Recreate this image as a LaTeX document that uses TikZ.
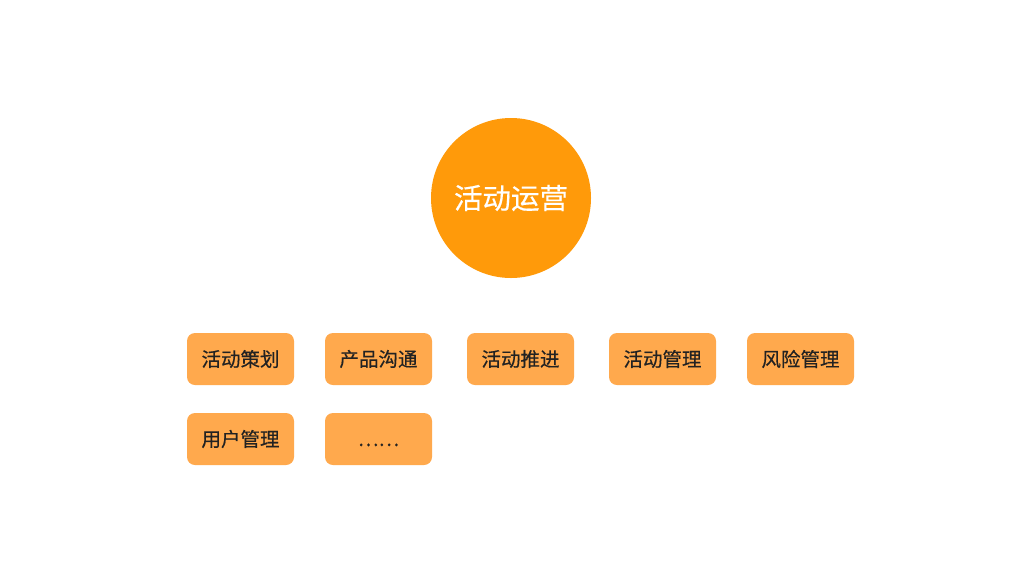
\documentclass[tikz,border=0pt]{standalone}
\usepackage{fontspec}
\newfontfamily\cjk{Noto Sans CJK SC}[FakeBold=0.5]
\definecolor{circ}{HTML}{FF9A0A}
\definecolor{boxc}{HTML}{FFA94D}
\definecolor{txt}{HTML}{222222}
\begin{document}
\begin{tikzpicture}[x=1pt,y=-1pt,
  itembox/.style={fill=boxc, rounded corners=8pt, minimum width=107pt, minimum height=52pt, inner sep=0pt, font=\cjk\fontsize{19.5}{22}\selectfont, text=txt},
  hub/.style={circle, fill=circ, minimum size=160pt, inner sep=0pt, font=\cjk\fontsize{28.5}{32}\selectfont, text=white}]
\useasboundingbox (0,0) rectangle (1024,576);
\fill[white] (0,0) rectangle (1024,576);
\node[hub] (hub) at (511,198) {活动运营};
\node[itembox] (b1) at (240.5,359) {活动策划};
\node[itembox] (b2) at (378.5,359) {产品沟通};
\node[itembox] (b3) at (520.5,359) {活动推进};
\node[itembox] (b4) at (662.5,359) {活动管理};
\node[itembox] (b5) at (800.5,359) {风险管理};
\node[itembox] (b6) at (240.5,439) {用户管理};
\node[itembox] (b7) at (378.5,439) {\raisebox{-7pt}[0pt][0pt]{……}};
\end{tikzpicture}
\end{document}
